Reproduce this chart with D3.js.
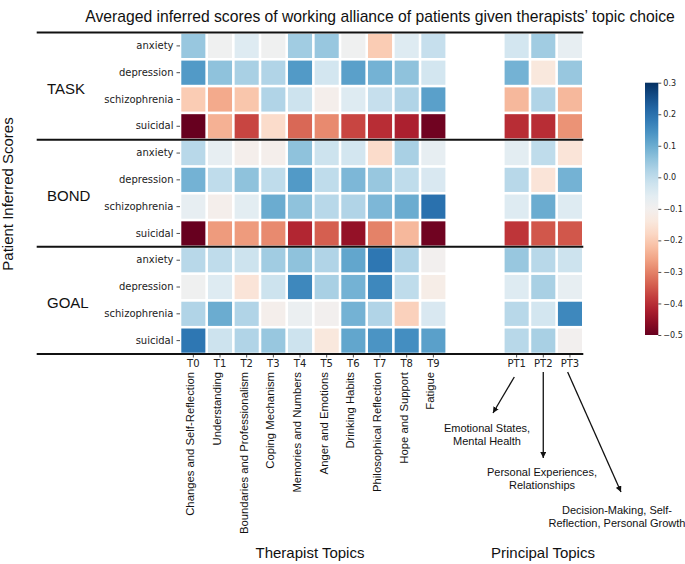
<!DOCTYPE html>
<html lang="en">
	<head>
		<meta charset="utf-8">
		<title>Averaged inferred scores heatmap</title>
		<script type="text/javascript" src="https://cdn.jsdelivr.net/npm/d3@7"></script>
		<style type="text/css">
			body { margin: 0; background: #fff; }
			.lab { font-family: "Liberation Sans", Arial, Helvetica, sans-serif; fill: #111; }
			.axis text { font-family: "DejaVu Sans", sans-serif; font-size: 10px; fill: #222; }
			.axis line { stroke: #222; stroke-width: 0.8; }
			.sep { stroke: #111; stroke-width: 2; }
			.arrow { stroke: #111; stroke-width: 1.3; }
		</style>
	</head>
	<body>
		<script type="text/javascript">

			var w = 685;
			var h = 564;

			// data
			var groups = ["TASK", "BOND", "GOAL"];
			var conditions = ["anxiety", "depression", "schizophrenia", "suicidal"];
			var therapistTopics = ["T0", "T1", "T2", "T3", "T4", "T5", "T6", "T7", "T8", "T9"];
			var therapistNames = ["Changes and Self-Reflection", "Understanding", "Boundaries and Professionalism",
				"Coping Mechanism", "Memories and Numbers", "Anger and Emotions", "Drinking Habits",
				"Philosophical Reflection", "Hope and Support", "Fatigue"];
			var principalTopics = ["PT1", "PT2", "PT3"];
			var principalNames = [["Emotional States,", "Mental Health"],
				["Personal Experiences,", "Relationships"],
				["Decision-Making, Self-", "Reflection, Personal Growth"]];

			// rows: anxiety, depression, schizophrenia, suicidal ; cols T0..T9
			var taskT = [
				[0.05, -0.09, -0.05, -0.09, 0.04, 0.05, -0.09, -0.20, -0.05, -0.01],
				[0.13, 0.06, 0.03, 0.02, 0.13, -0.03, 0.12, 0.09, 0.06, -0.03],
				[-0.20, -0.25, -0.21, 0.02, -0.02, -0.11, -0.05, -0.01, 0.02, 0.12],
				[-0.50, -0.24, -0.37, -0.17, -0.33, -0.29, -0.37, -0.40, -0.42, -0.49]
			];
			var bondT = [
				[0.01, -0.07, -0.11, -0.11, 0.06, -0.02, -0.03, -0.17, 0.03, -0.07],
				[0.09, 0.00, 0.06, 0.00, 0.13, 0.00, 0.08, 0.05, 0.00, -0.04],
				[-0.07, -0.11, -0.06, 0.10, 0.06, 0.01, 0.02, 0.08, 0.10, 0.20],
				[-0.50, -0.27, -0.27, -0.29, -0.41, -0.34, -0.45, -0.30, -0.23, -0.49]
			];
			var goalT = [
				[0.01, 0.00, -0.02, 0.04, 0.06, 0.02, 0.11, 0.19, 0.02, -0.10],
				[-0.09, -0.05, -0.15, -0.02, 0.16, 0.03, 0.09, 0.16, 0.00, -0.12],
				[0.02, 0.10, 0.02, -0.11, -0.08, -0.10, 0.09, 0.02, -0.19, -0.04],
				[0.19, -0.02, 0.02, 0.05, -0.02, -0.14, 0.11, 0.14, 0.15, 0.12]
			];
			// cols PT1..PT3
			var taskPT = [
				[-0.03, 0.04, -0.07],
				[0.09, -0.14, 0.05],
				[-0.23, 0.02, -0.23],
				[-0.40, -0.40, -0.28]
			];
			var bondPT = [
				[-0.06, 0.00, -0.15],
				[0.01, -0.15, 0.09],
				[-0.05, 0.10, -0.05],
				[-0.39, -0.35, -0.35]
			];
			var goalPT = [
				[0.05, 0.01, -0.02],
				[-0.05, 0.03, -0.07],
				[0.01, -0.03, 0.16],
				[0.01, 0.03, -0.10]
			];
			var cbTicks = [0.3, 0.2, 0.1, 0.0, -0.1, -0.2, -0.3, -0.4, -0.5];

			var tData = [taskT, bondT, goalT];
			var pData = [taskPT, bondPT, goalPT];

			var rowKeys = [];
			groups.forEach(function(g) {
				conditions.forEach(function(c) { rowKeys.push(g + "|" + c); });
			});

			var cells = [];
			groups.forEach(function(g, gi) {
				conditions.forEach(function(c, ci) {
					therapistTopics.forEach(function(t, ti) {
						cells.push({ row: g + "|" + c, col: t, side: "T", v: tData[gi][ci][ti] });
					});
					principalTopics.forEach(function(t, ti) {
						cells.push({ row: g + "|" + c, col: t, side: "P", v: pData[gi][ci][ti] });
					});
				});
			});

			// scales
			var yScale = d3.scaleBand().domain(rowKeys).range([32.5, 354]);
			var xT = d3.scaleBand().domain(therapistTopics).range([180, 446.7]);
			var xP = d3.scaleBand().domain(principalTopics).range([503.3, 583.3]);
			var color = d3.scaleSequential(d3.interpolateRdBu).domain([-0.5, 0.3]);
			var gap = 2.6;

			var svg = d3.select("body")
						.append("svg")
						.attr("width", w)
						.attr("height", h);

			var defs = svg.append("defs");
			defs.append("marker")
				.attr("id", "ah")
				.attr("viewBox", "0 0 10 10")
				.attr("refX", 10).attr("refY", 5)
				.attr("markerWidth", 6).attr("markerHeight", 6)
				.attr("markerUnits", "userSpaceOnUse")
				.attr("orient", "auto")
				.append("path")
				.attr("d", "M0,0 L10,5 L0,10 z")
				.attr("fill", "#111");

			// cells
			svg.append("g").selectAll("rect")
				.data(cells)
				.enter()
				.append("rect")
				.attr("x", function(d) { return (d.side == "T" ? xT(d.col) : xP(d.col)) + gap / 2; })
				.attr("y", function(d) { return yScale(d.row) + gap / 2; })
				.attr("width", function(d) { return (d.side == "T" ? xT.bandwidth() : xP.bandwidth()) - gap; })
				.attr("height", yScale.bandwidth() - gap)
				.attr("fill", function(d) { return color(d.v); });

			// y axis
			var yAxis = d3.axisLeft(yScale)
						.tickSize(3.5)
						.tickPadding(3)
						.tickFormat(function(d) { return d.split("|")[1]; });
			svg.append("g")
				.attr("class", "axis")
				.attr("transform", "translate(" + 180 + ",0)")
				.call(yAxis)
				.call(function(g) { g.select(".domain").remove(); });

			// x axes
			var bottom = yScale.range()[1];
			[xT, xP].forEach(function(sc) {
				svg.append("g")
					.attr("class", "axis")
					.attr("transform", "translate(0," + bottom + ")")
					.call(d3.axisBottom(sc).tickSize(3.5).tickPadding(2))
					.call(function(g) { g.select(".domain").remove(); });
			});

			// separator lines
			var sepY = [0, 4, 8].map(function(i) { return yScale(rowKeys[i]); }).concat([bottom]);
			svg.selectAll(".sep")
				.data(sepY)
				.enter()
				.append("line")
				.attr("class", "sep")
				.attr("x1", 36.7)
				.attr("x2", xP.range()[1])
				.attr("y1", function(d) { return d; })
				.attr("y2", function(d) { return d; });

			// group labels
			svg.selectAll(".grp")
				.data(groups)
				.enter()
				.append("text")
				.attr("class", "lab grp")
				.attr("x", 47)
				.attr("y", function(g) { return yScale(g + "|" + conditions[1]) + yScale.bandwidth() + 2.5; })
				.attr("dominant-baseline", "central")
				.style("font-size", "15px")
				.text(function(g) { return g; });

			// therapist topic names (rotated)
			svg.selectAll(".tname")
				.data(therapistTopics)
				.enter()
				.append("text")
				.attr("class", "lab tname")
				.attr("transform", function(d) {
					return "translate(" + (xT(d) + xT.bandwidth() / 2 + 1) + "," + 372 + ") rotate(-90)";
				})
				.attr("text-anchor", "end")
				.style("font-size", "11.3px")
				.text(function(d, i) { return therapistNames[i]; });

			// principal topic annotations
			var annot = [
				{ from: [xP("PT1") + 11, 377], to: [493, 413], tx: 487, ty: 432 },
				{ from: [xP("PT2") + 13.3, 372], to: [xP("PT2") + 13.3, 458], tx: 542, ty: 476 },
				{ from: [xP("PT3") + 11, 372], to: [621, 492], tx: 617, ty: 514 }
			];
			annot.forEach(function(a, i) {
				svg.append("line")
					.attr("class", "arrow")
					.attr("x1", a.from[0]).attr("y1", a.from[1])
					.attr("x2", a.to[0]).attr("y2", a.to[1])
					.attr("marker-end", "url(#ah)");
				var t = svg.append("text")
					.attr("class", "lab")
					.attr("text-anchor", "middle")
					.style("font-size", "11px");
				principalNames[i].forEach(function(line, j) {
					t.append("tspan")
						.attr("x", a.tx)
						.attr("y", a.ty + j * 13)
						.text(line);
				});
			});

			// titles
			svg.append("text")
				.attr("class", "lab")
				.attr("x", 380).attr("y", 22)
				.attr("text-anchor", "middle")
				.style("font-size", "15.7px")
				.text("Averaged inferred scores of working alliance of patients given therapists\u2019 topic choice");

			svg.append("text")
				.attr("class", "lab")
				.attr("x", 310).attr("y", 558)
				.attr("text-anchor", "middle")
				.style("font-size", "15px")
				.text("Therapist Topics");

			svg.append("text")
				.attr("class", "lab")
				.attr("x", 543).attr("y", 558)
				.attr("text-anchor", "middle")
				.style("font-size", "15px")
				.text("Principal Topics");

			svg.append("text")
				.attr("class", "lab")
				.attr("transform", "translate(13,194) rotate(-90)")
				.attr("text-anchor", "middle")
				.style("font-size", "15px")
				.text("Patient Inferred Scores");

			// colorbar
			var cbX = 645, cbW = 13.3;
			var cbScale = d3.scaleLinear().domain([-0.5, 0.3]).range([335, 82.7]);
			var grad = defs.append("linearGradient")
				.attr("id", "cbgrad")
				.attr("x1", 0).attr("y1", 1).attr("x2", 0).attr("y2", 0);
			d3.range(0, 1.0001, 0.05).forEach(function(t) {
				grad.append("stop")
					.attr("offset", t)
					.attr("stop-color", d3.interpolateRdBu(t));
			});
			svg.append("rect")
				.attr("x", cbX)
				.attr("y", cbScale(0.3))
				.attr("width", cbW)
				.attr("height", cbScale(-0.5) - cbScale(0.3))
				.attr("fill", "url(#cbgrad)");

			svg.append("g")
				.attr("class", "axis cb")
				.attr("transform", "translate(" + (cbX + cbW) + ",0)")
				.call(d3.axisRight(cbScale).tickValues(cbTicks).tickSize(3).tickPadding(2).tickFormat(d3.format(".1f")))
				.call(function(g) { g.select(".domain").remove(); })
				.selectAll("text").style("font-size", "8px");

		</script>
	</body>
</html>
